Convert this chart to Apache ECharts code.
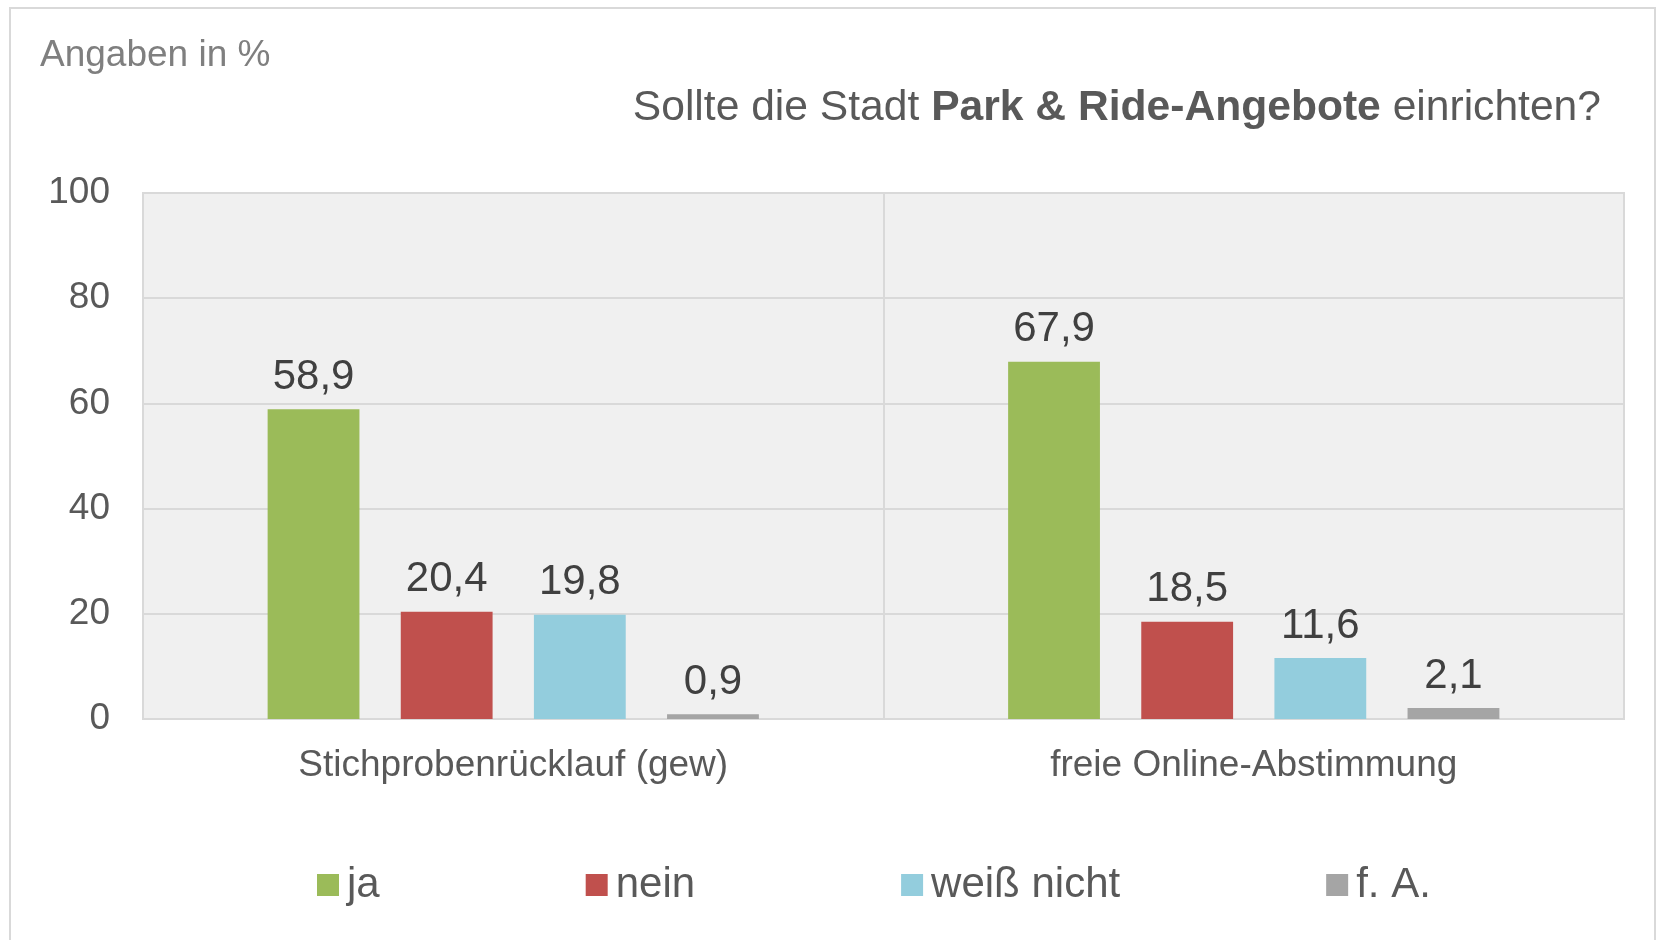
<!DOCTYPE html>
<html>
<head>
<meta charset="utf-8">
<script src="https://cdn.jsdelivr.net/npm/echarts@6/dist/echarts.min.js"></script>
<style>
html,body{margin:0;padding:0;background:#fff;}
#c{width:1657px;height:940px;}
</style>
</head>
<body>
<div id="c"></div>
<script>
const categories = ['Stichprobenrücklauf (gew)', 'freie Online-Abstimmung'];
const seriesNames = ['ja', 'nein', 'weiß nicht', 'f. A.'];
const jaValues = [58.9, 67.9];
const neinValues = [20.4, 18.5];
const weissNichtValues = [19.8, 11.6];
const faValues = [0.9, 2.1];
const yTicks = [0, 20, 40, 60, 80, 100];
const colors = ['#9bbb59', '#c0504d', '#93cddd', '#a5a5a5'];

const FONT = '"Liberation Sans", Arial, sans-serif';
const chart = echarts.init(document.getElementById('c'));
const valueSets = [jaValues, neinValues, weissNichtValues, faValues];

const series = seriesNames.map((name, i) => ({
  name: name,
  type: 'bar',
  data: valueSets[i],
  barWidth: '12.4%',
  barGap: '45%',
  itemStyle: { color: colors[i] },
  label: {
    show: true,
    position: 'top',
    distance: 11,
    color: '#404040',
    fontSize: 42,
    fontFamily: FONT,
    formatter: p => String(p.value).replace('.', ',')
  }
}));

chart.setOption({
  animation: false,
  backgroundColor: '#ffffff',
  textStyle: { fontFamily: FONT },
  graphic: [{
    type: 'rect',
    shape: { x: 10, y: 8, width: 1645, height: 1000 },
    style: { fill: 'none', stroke: '#d9d9d9', lineWidth: 2 },
    silent: true
  }],
  title: [{
    text: 'Angaben in %',
    left: 35,
    top: 32,
    textStyle: { color: '#7f7f7f', fontSize: 37, fontWeight: 'normal', fontFamily: FONT }
  }, {
    text: '{r|Sollte die Stadt }{b|Park & Ride-Angebote}{r| einrichten?}',
    right: 51,
    top: 82,
    textStyle: {
      rich: {
        r: { color: '#595959', fontSize: 42.6, fontFamily: FONT, fontWeight: 'normal' },
        b: { color: '#595959', fontSize: 42.6, fontFamily: FONT, fontWeight: 'bold' }
      }
    }
  }],
  legend: {
    data: seriesNames,
    left: 312,
    top: 859,
    itemWidth: 22,
    itemHeight: 22,
    itemGap: 206,
    icon: 'rect',
    textStyle: { color: '#595959', fontSize: 42, fontFamily: FONT, padding: [0, 0, 0, 3] }
  },
  grid: {
    left: 143,
    right: 33,
    top: 193,
    bottom: 221,
    show: true,
    backgroundColor: '#f0f0f0',
    borderColor: '#d9d9d9',
    borderWidth: 2
  },
  xAxis: {
    type: 'category',
    data: categories,
    axisTick: { show: false },
    axisLine: { show: true, lineStyle: { color: '#d9d9d9', width: 2 } },
    splitLine: { show: true, lineStyle: { color: '#d9d9d9', width: 2 } },
    axisLabel: { color: '#595959', fontSize: 37, fontFamily: FONT, margin: 28 }
  },
  yAxis: {
    type: 'value',
    min: yTicks[0],
    max: yTicks[yTicks.length - 1],
    interval: yTicks[1] - yTicks[0],
    axisLine: { show: false },
    axisTick: { show: false },
    splitLine: { show: true, lineStyle: { color: '#d9d9d9', width: 2 } },
    axisLabel: { color: '#595959', fontSize: 37, fontFamily: FONT, margin: 33, padding: [6, 0, 0, 0] }
  },
  series: series
});
</script>
</body>
</html>
